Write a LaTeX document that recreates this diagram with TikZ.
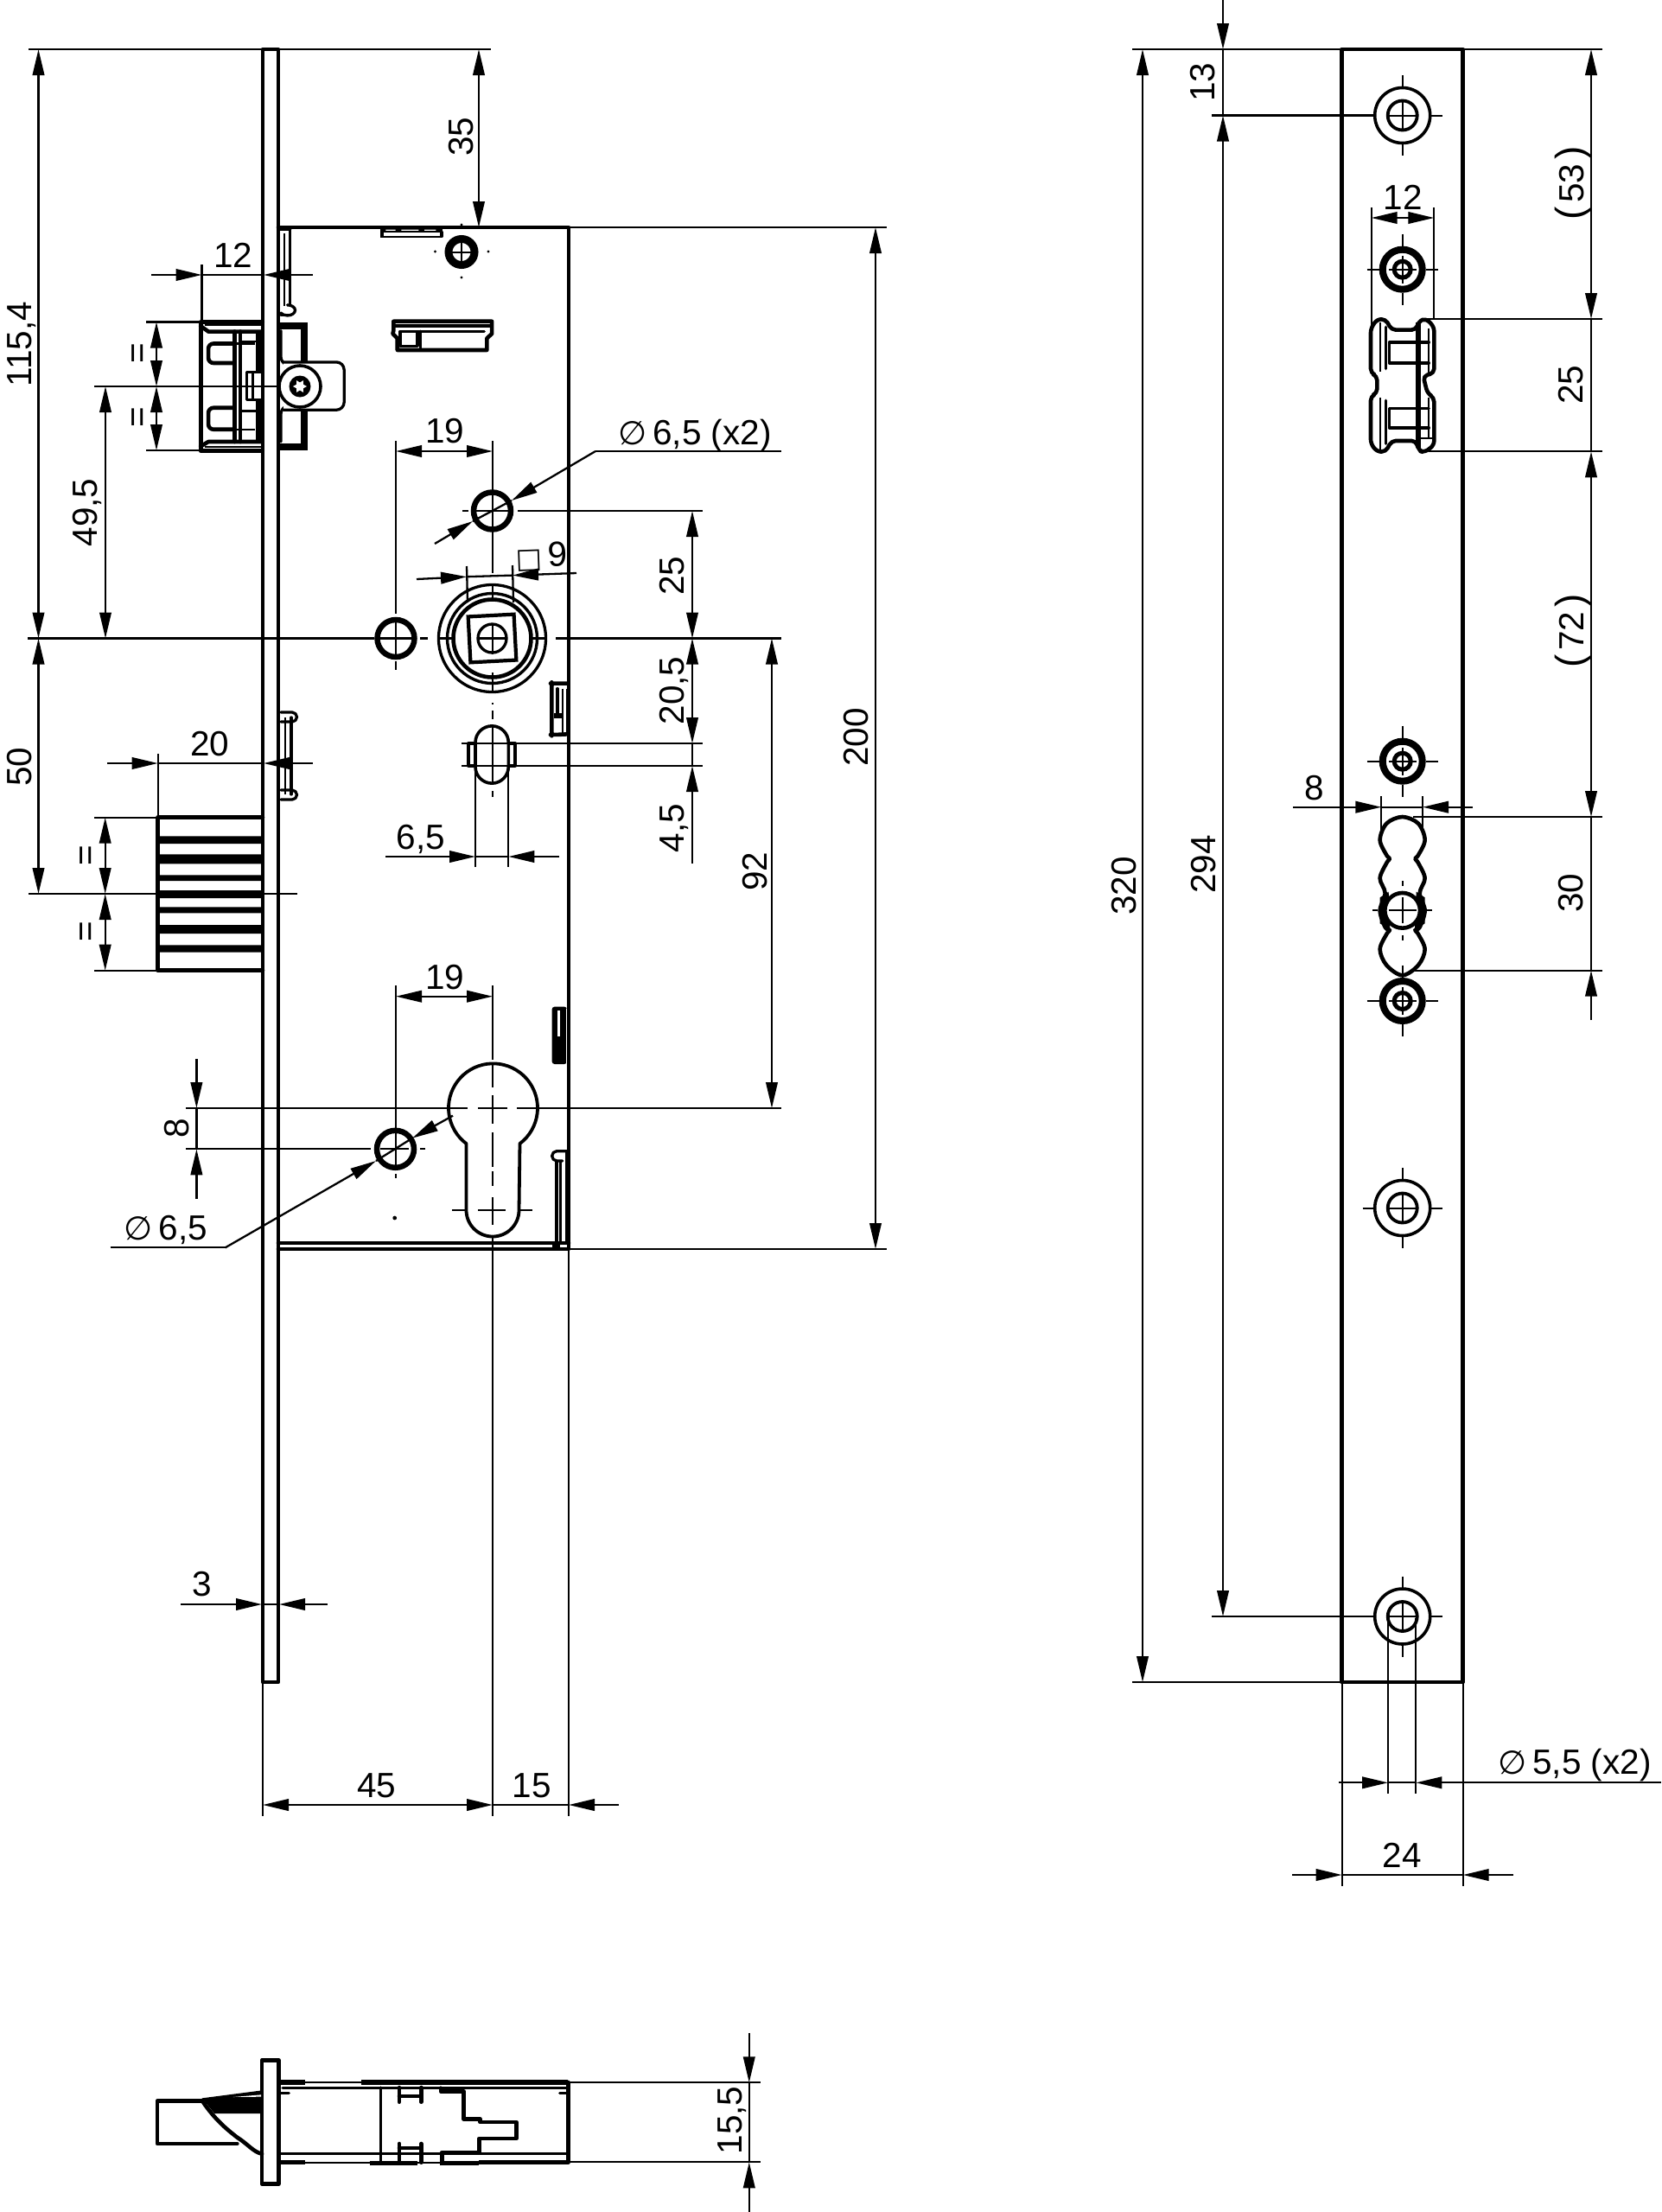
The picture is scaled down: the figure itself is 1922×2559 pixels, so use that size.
\documentclass[tikz,border=0pt]{standalone}
\usepackage{fontspec}
\setmainfont{Liberation Sans}
\newfontfamily\dej{DejaVu Sans}
\usetikzlibrary{arrows.meta}
\tikzset{
  dimln/.style={line width=2.3pt,black},
  ln/.style={dimln,-{Triangle[length=30pt,width=13.5pt]}},
  lr/.style={dimln,{Triangle[length=30pt,width=13.5pt]}-{Triangle[length=30pt,width=13.5pt]}},
  thk/.style={line width=4.6pt,line join=round,line cap=round},
  md/.style={line width=3.3pt,line join=round,line cap=round},
  fine/.style={line width=2pt},
  lab/.style={font=\fontsize{40.5}{40.5}\selectfont,inner sep=0pt,text=black,text height=28pt,text depth=0pt},
  vlab/.style={lab,rotate=90},
  zA/.style={shift={(0,220)},xscale=0.4464,yscale=0.3571},
  zB/.style={shift={(400,500)},scale=0.3333},
  zE/.style={shift={(1450,40)},scale=0.3333},
  zF/.style={shift={(1450,830)},scale=0.3333},
  zG/.style={shift={(400,1150)},scale=0.3333},
  zD/.style={shift={(150,2320)},xscale=0.4785,yscale=0.3333},
}
\newcommand\bigscrew[3]{%
  \begin{scope}[shift={(#1,#2)}]
    \draw[md,line width=3.6pt] (0,0) circle[radius=32];
    \draw[md,line width=3.8pt] (0,0) circle[radius=17];
    \draw[fine] (-17,0)--(17,0) (0,-17)--(0,17) (-46,0)--(-32,0) (32,0)--(46,0) (0,-46.5)--(0,-32) (0,32)--(0,46.5);
  \end{scope}}
\newcommand\lockscrew[2]{%
  \begin{scope}[shift={(#1,#2)}]
    \draw[line width=8pt] (0,0) circle[radius=23];
    \draw[line width=5pt] (0,0) circle[radius=9.5];
    \draw[fine] (-16,0)--(16,0) (0,-16)--(0,16) (-41,0)--(-27,0) (27,0)--(41,0) (0,-41)--(0,-27) (0,27)--(0,41);
  \end{scope}}
\newcommand\ringhole[2]{%
  \draw[line width=6.5pt] (#1,#2) circle[radius=21.5];}
\begin{document}
\begin{tikzpicture}[x=1pt,y=1pt,yscale=-1]
\useasboundingbox (0,0) rectangle (1922,2559);
\fill[white] (0,0) rectangle (1922,2559);

%% ---------- left view: dimension lines ----------
\draw[dimln] (33,57)--(568,57) (33,1034)--(344,1034) (32,738.5)--(433,738.5)
  (440,738.5)--(476,738.5) (486,738.5)--(495,738.5) (507,738.5)--(525,738.5)
  (552,738.5)--(586,738.5) (613,738.5)--(632,738.5) (643,738.5)--(904,738.5);
\draw[lr] (44.5,57)--(44.5,738.5);
\draw[lr] (44.5,738.5)--(44.5,1034);
\node[vlab] (t1154) at (22,398) {115,4};
\node[vlab] (t50) at (22,887) {50};
\draw[lr] (122,447)--(122,738.5);
\node[vlab] (t495) at (98,593) {49,5};
\draw[dimln] (109,447)--(335,447) (169,372.5)--(232,372.5) (169,521)--(232,521);
\draw[lr] (181,372.5)--(181,447);
\draw[lr] (181,447)--(181,521);
\node[vlab] (teqa) at (158,409) {=};
\node[vlab] (teqb) at (158,483) {=};
\draw[ln] (175,318)--(233.5,318);
\draw[ln] (362,318)--(305,318);
\draw[dimln] (233.5,318)--(305,318) (233.5,306)--(233.5,372);
\node[lab] (t12a) at (270,295) {12};
\draw[lr] (554,57)--(554,263);
\node[vlab] (t35) at (533,158) {35};
\draw[dimln] (658,263)--(1026,263) (658,1445)--(1026,1445);
\draw[lr] (1013,263)--(1013,1445);
\node[vlab] (t200) at (990,853) {200};

% upper 19 and phi leader
\draw[lr] (458,522)--(570,522);
\draw[dimln] (458,510)--(458,710) (570,510)--(570,663) (458,715)--(458,760) (458,765)--(458,775);
\node[lab] (t19a) at (515,498) {19};
\draw[dimln] (904,522)--(689,522);
\draw[ln] (689,522)--(592,579);
\draw[ln] (503,629)--(547,603);
\draw[dimln] (592,579)--(547,603);
\node[lab] (tphia) at (804,500) {{\dej\fontsize{38}{38}\selectfont ∅}\,6,5 (x2)};
\draw[dimln] (535,591)--(542,591) (547,591)--(593,591) (599,591)--(813,591);

% square 9
\draw[ln] (482,670)--(540,667.2);
\draw[ln] (667,663)--(593,665.6);
\draw[dimln] (540,667.2)--(593,665.6) (540,655)--(541,697) (593,654)--(594,697);
\node[lab,rotate=2] (tsq) at (627,642) {{\dej\fontsize{32}{32}\selectfont □}\,9};

% right chain
\draw[lr] (801,591)--(801,738.5);
\draw[lr] (801,738.5)--(801,860);
\draw[ln] (801,999)--(801,886);
\draw[dimln] (801,860)--(801,886);
\node[vlab] (t25a) at (777,666) {25};
\node[vlab] (t205) at (777,799) {20,5};
\node[vlab] (t45) at (777,958) {4,5};
\draw[dimln] (534,860)--(813,860) (534,886)--(813,886);
\draw[lr] (893,738.5)--(893,1282);
\node[vlab] (t92) at (873,1008) {92};

% 6,5
\draw[dimln] (550,885)--(550,1003) (588.3,885)--(588.3,1003);
\draw[ln] (446,991)--(550,991);
\draw[ln] (647,991)--(588.3,991);
\draw[dimln] (550,991)--(588.3,991);
\node[lab] (t65) at (487,968) {6,5};

% spindle centre dashes
\draw[dimln] (570,678)--(570,692) (570,723)--(570,757) (570,778)--(570,800)
  (570,813)--(570,815) (570,822)--(570,832) (570,840)--(570,907) (570,915)--(570,922);

% 20 dim
\draw[ln] (124,883)--(182.7,883);
\draw[ln] (362,883)--(305,883);
\draw[dimln] (182.7,883)--(305,883) (182.7,872)--(182.7,945);
\node[lab] (t20) at (243,860) {20};
\draw[dimln] (109,945.7)--(182,945.7) (109,1122.7)--(182,1122.7);
\draw[lr] (121.7,945.7)--(121.7,1034);
\draw[lr] (121.7,1034)--(121.7,1122.7);
\node[vlab] (teqc) at (98,990) {=};
\node[vlab] (teqd) at (98,1078) {=};

% lower 19, 8, phi
\draw[lr] (458,1152.7)--(570,1152.7);
\draw[dimln] (458,1140)--(458,1346) (458,1358)--(458,1363) (570,1140)--(570,1226);
\node[lab] (t19b) at (515,1130) {19};
\draw[dimln] (215,1282)--(541,1282) (553,1282)--(587,1282) (598,1282)--(904,1282);
\draw[dimln] (215,1329.3)--(429,1329.3) (440,1329.3)--(473,1329.3) (486,1329.3)--(492,1329.3);
\draw[ln] (227.4,1225)--(227.4,1282);
\draw[ln] (227.4,1387)--(227.4,1329.3);
\draw[dimln] (227.4,1282)--(227.4,1329.3);
\node[vlab] (t8a) at (204,1305) {8};
\draw[dimln] (127.5,1443.3)--(260.7,1443.3);
\draw[ln] (260.7,1443.3)--(435,1343);
\draw[ln] (524,1290.7)--(477,1316.7);
\draw[dimln] (435,1343)--(477,1316.7);
\node[lab] (tphib) at (192,1420) {{\dej\fontsize{38}{38}\selectfont ∅}\,6,5};

% cylinder centre lines
\draw[dimln] (570,1230)--(570,1258) (570,1267)--(570,1300) (570,1310)--(570,1350)
  (570,1355)--(570,1372) (570,1385)--(570,1417) (570,1431)--(570,2101)
  (523,1400)--(538,1400) (553,1400)--(585,1400) (602,1400)--(616,1400);
\draw[dimln] (658,1445)--(658,2101) (304,1946)--(304,2101);

% 3, 45, 15
\draw[ln] (209,1856)--(303,1856);
\draw[ln] (379,1856)--(323,1856);
\draw[dimln] (303,1856)--(323,1856);
\node[lab] (t3) at (233.6,1832) {3};
\draw[lr] (304,2088)--(570,2088);
\draw[ln] (715.7,2088)--(658,2088);
\draw[dimln] (570,2088)--(658,2088);
\node[lab] (t45b) at (436,2065) {45};
\node[lab] (t15) at (615,2065) {15};

%% ---------- left view: body ----------
\draw[thk] (304,57) rectangle (322,1946);
\draw[thk] (322,263)--(658,263)--(658,1445)--(322,1445);
\draw[thk] (322,1438)--(658,1438);

% holes
\ringhole{569.5}{591}
\ringhole{458}{738.5}
\ringhole{457.5}{1329.3}
\draw[dimln] (570,570)--(570,612) (547,591)--(593,591);
\draw[dimln] (458,717)--(458,760) (440,738.5)--(476,738.5);
\draw[dimln] (458,1308)--(458,1350) (440,1329.3)--(473,1329.3);

% spindle
\draw[md] (569.5,738.5) circle[radius=62];
\draw[md,line width=3.4pt] (569.5,738.5) circle[radius=52];
\draw[line width=4.6pt] (569.5,738.5) circle[radius=45];
\begin{scope}[shift={(569.5,738.5)},rotate=-3]
  \draw[line width=4.2pt,line join=miter] (-26.5,-26.5) rectangle (26.5,26.5);
\end{scope}
\draw[md] (569.5,738.5) circle[radius=16.5];

% oval slot
\draw[md,line width=3.6pt] (550,859) arc[start angle=180,end angle=360,radius=19.15]
  --(588.3,887) arc[start angle=0,end angle=180,radius=19.15]--cycle;
\draw[md] (548,860)--(542,860)--(542,886)--(548,886);
\draw[md] (590,860)--(596,860)--(596,886)--(590,886);
\draw[fine] (543,861)--(543,885) (595,861)--(595,885);

% cylinder hole
\draw[thk,line width=3.8pt] (539.5,1323) arc[start angle=127,end angle=413,radius=51.5]
  --(600.5,1400) arc[start angle=0,end angle=180,radius=30.5]--cycle;

% top screw
\draw[line width=9pt] (534,291.5) circle[radius=15];
\draw[fine] (523,291.5)--(545,291.5) (534,280)--(534,303);
\fill (503.5,291) circle[radius=1.6] (565,291) circle[radius=1.6]
      (534,321) circle[radius=1.6] (534,260) circle[radius=1.6]
      (456.7,1409) circle[radius=2.4];

% top tab, slot, springs, side tabs
\begin{scope}[zA]
  \fill (985,122) rectangle (1148,155);
  \fill[white] (1000,128) rectangle (1025,140) (1040,128) rectangle (1085,140) (1100,128) rectangle (1130,140);
  \draw[md,fill=white] (990,135) rectangle (1145,150);
  \fill[white] (995,137) rectangle (1140,148);
  \draw[thk] (1020,455)--(1020,425)--(1275,425)--(1275,465)--(1262,480)--(1262,518)--(1030,518)--(1030,480)--(1018,465)--cycle;
  \draw[md] (1020,440)--(1272,440);
  \draw[md] (1037,457)--(1082,457)--(1082,505)--(1037,505)--cycle;
  \draw[md] (1090,457)--(1090,518);
  \draw[md] (1082,457)--(1255,457);
  % spring top
  \draw[md] (752,128)--(752,372);
  \draw[fine] (738,140)--(738,375);
  \draw[md] (726,128)--(752,128);
  \draw[md] (745,372) arc[start angle=-90,end angle=150,x radius=20,y radius=17];
  \draw[md] (728,405)--(750,405);
\end{scope}

% latch bolt
\begin{scope}[zA]
  \draw[thk,line width=5pt] (680,427)--(520,427)--(520,845)--(680,845);
  \draw[fine] (530,438)--(680,438) (530,832)--(680,832);
  \draw[thk] (520,440)--(540,458)--(680,458) (520,830)--(540,815)--(680,815);
  \draw[thk,rounded corners=6] (605,497)--(540,497)--(540,560)--(605,560);
  \draw[thk,rounded corners=6] (605,705)--(540,705)--(540,775)--(605,775);
  \draw[thk] (608,458)--(608,815) (623,458)--(623,815);
  \draw[line width=2.4pt] (623,490)--(668,490) (623,715)--(668,715) (608,497)--(660,497) (608,775)--(660,775);
  \draw[line width=7pt] (670,458)--(670,590) (670,680)--(670,815);
  \draw[md] (678,590)--(640,590)--(640,680)--(678,680);
  \draw[line width=3pt] (655,590)--(655,680);
  % behind the plate
  \draw[line width=8pt,line join=miter] (722,441)--(789,441)--(789,832)--(722,832);
  \draw[md] (728,455)--(728,540) arc[start angle=180,end angle=120,radius=30];
  \draw[md] (728,815)--(728,725) arc[start angle=180,end angle=240,radius=30];
  \draw[md,rounded corners=9pt,fill=white] (735,557)--(892,557)--(892,712)--(735,712);
\end{scope}
\draw[md,fill=white,line width=3.6pt] (347,447) circle[radius=24];
\fill (347,447) circle[radius=12.5];
\fill[white,shift={(347,447)}] (0:8)--(30:4.5)--(60:8)--(90:4.5)--(120:8)--(150:4.5)--(180:8)--(210:4.5)--(240:8)--(270:4.5)--(300:8)--(330:4.5)--cycle;

% dead bolt
\draw[thk] (304,945.7)--(182.7,945.7)--(182.7,1122.7)--(304,1122.7);
\fill (182.7,967.3) rectangle (304,976) (182.7,988.3) rectangle (304,999.3)
      (182.7,1012.3) rectangle (304,1019) (182.7,1030) rectangle (304,1039)
      (182.7,1049.3) rectangle (304,1056.3) (182.7,1070) rectangle (304,1080)
      (182.7,1093.3) rectangle (304,1101.7);

% side spring at 20
\draw[md] (337,830)--(337,919);
\draw[fine] (330,830)--(330,919);
\draw[md] (325,824)--(338,824) arc[start angle=-90,end angle=90,radius=5.5]--(325,835);
\draw[md] (325,914)--(338,914) arc[start angle=-90,end angle=90,radius=5.5]--(325,925);

% right side tabs
\begin{scope}[zB]
  \draw[thk,rounded corners=8pt] (772,872)--(735,872) arc[start angle=-90,end angle=-180,radius=20]--(715,1030) arc[start angle=180,end angle=90,radius=20]--(772,1048);
  \fill (722,975) rectangle (752,992);
  \draw[fine] (752,890)--(752,1045) (767,890)--(767,1045);
  \draw[md] (735,890)--(735,975);
\end{scope}
\begin{scope}[zG]
  \fill[rounded corners=3pt] (716,44) rectangle (768,243);
  \fill[white] (735,56) rectangle (745,146);
  \draw[white,line width=0.8pt] (765,50)--(765,240);
  \draw[md] (732,583)--(732,865) (745,583)--(745,865);
  \draw[fine] (765,545)--(765,870);
  \draw[md] (770,545)--(733,545) arc[start angle=-90,end angle=-270,radius=17]--(752,579);
  \fill (718,865) rectangle (745,885);
\end{scope}

%% ---------- right view ----------
\draw[dimln] (1310,57)--(1552,57) (1692,57)--(1854,57) (1310,1946)--(1552,1946);
\draw[lr] (1322,57)--(1322,1946);
\node[vlab] (t320) at (1300,1025) {320};
\draw[ln] (1415,0)--(1415,57);
\draw[dimln] (1415,57)--(1415,133.5);
\draw[lr] (1415,133.5)--(1415,1870);
\draw[dimln] (1402,133.5)--(1590,133.5) (1402,1870)--(1590,1870);
\node[vlab] (t13) at (1391.7,95) {13};
\node[vlab] (t294) at (1392,1000) {294};
\draw[lr] (1841,57)--(1841,369);
\draw[dimln] (1841,369)--(1841,522.3);
\draw[lr] (1841,522.3)--(1841,945);
\draw[dimln] (1841,945)--(1841,1122.7);
\draw[ln] (1841,1180)--(1841,1122.7);
\draw[dimln] (1650,369)--(1854,369) (1653,522.3)--(1854,522.3) (1635,945)--(1854,945) (1635,1122.7)--(1854,1122.7);
\node[vlab] (t53) at (1818,212) {{\fontsize{46}{46}\selectfont(}\hspace{5pt}53\hspace{5pt}{\fontsize{46}{46}\selectfont)}};
\node[vlab] (t25b) at (1817,445) {25};
\node[vlab] (t72) at (1818,730) {{\fontsize{46}{46}\selectfont(}\hspace{5pt}72\hspace{5pt}{\fontsize{46}{46}\selectfont)}};
\node[vlab] (t30) at (1817,1033) {30};

\draw[lr] (1586.7,252)--(1659.3,252);
\draw[dimln] (1586.7,240)--(1586.7,377) (1659.3,240)--(1659.3,370);
\node[lab] (t12b) at (1623,228) {12};

\draw[ln] (1496,933.7)--(1598.3,933.7);
\draw[ln] (1704,933.7)--(1646,933.7);
\draw[dimln] (1598.3,933.7)--(1646,933.7) (1598.3,921)--(1598.3,960) (1646,921)--(1646,960);
\node[lab] (t8b) at (1520.7,911) {8};

\draw[dimln] (1606,1872)--(1606,2075) (1638.3,1872)--(1638.3,2075);
\draw[dimln] (1552.7,1946)--(1552.7,2181.7) (1692.7,1946)--(1692.7,2181.7);
\draw[ln] (1549,2062.3)--(1606,2062.3);
\draw[ln] (1921.7,2062.3)--(1638.3,2062.3);
\draw[dimln] (1606,2062.3)--(1638.3,2062.3);
\node[lab] (tphic) at (1822,2038) {{\dej\fontsize{38}{38}\selectfont ∅}\,5,5 (x2)};
\draw[ln] (1495,2169)--(1552.7,2169);
\draw[ln] (1750.7,2169)--(1692.7,2169);
\draw[dimln] (1552.7,2169)--(1692.7,2169);
\node[lab] (t24) at (1622.3,2146) {24};

\draw[thk] (1552.7,57) rectangle (1692.7,1946);
\bigscrew{1622.7}{133.5}{}
\bigscrew{1622.7}{1397.5}{}
\bigscrew{1622.7}{1870}{}
\lockscrew{1622.7}{311.7}
\lockscrew{1622.7}{880.7}
\lockscrew{1622.7}{1158}

% latch bolt, front
\begin{scope}[zE]
  \draw[thk,rounded corners=5pt] (408,1020)--(430,988)--(460,988)--(480,1025)--(565,1025)--(575,995)--(600,985)--(628,1015)--(628,1175)--(590,1185)--(605,1245)--(628,1260)--(628,1425)--(595,1450)--(575,1445)--(565,1410)--(480,1410)--(460,1448)--(430,1448)--(408,1420)--(408,1255)--(430,1245)--(430,1185)--(408,1175)--cycle;
  \draw[fine] (440,1000)--(440,1170) (440,1260)--(440,1440) (610,1020)--(610,1175) (610,1260)--(610,1405) (575,1400)--(628,1400);
  \draw[md] (460,1015)--(460,1160) (460,1270)--(460,1420);
  \draw[md] (610,1068)--(472,1068)--(472,1140)--(610,1140);
  \draw[md] (610,1298)--(472,1298)--(472,1365)--(610,1365);
  \draw[line width=6pt] (573,1000)--(573,1435);
\end{scope}

% lobed slot
\begin{scope}[zF]
  \draw[thk,line join=round] plot[smooth cycle,tension=0.55] coordinates {(518,345)(463,368)(440,425)(463,478)(474,490)(463,505)(440,558)(458,610)(440,670)(458,728)(474,738)(463,752)(440,805)(463,860)(518,895)(573,860)(596,805)(573,752)(562,738)(578,728)(596,670)(578,610)(596,558)(573,505)(562,490)(573,478)(596,425)(573,368)};
  \fill (440,625)--(470,605)--(475,735)--(440,715)--cycle;
  \fill (596,625)--(566,605)--(561,735)--(596,715)--cycle;
  \draw[thk,fill=white,line width=4.6pt] (518,670) circle[radius=61];
  \draw[fine] (470,670)--(566,670) (518,625)--(518,715) (415,670)--(432,670) (604,670)--(620,670)
    (518,568)--(518,585) (518,755)--(518,775) (518,860)--(518,893);
\end{scope}

%% ---------- bottom view ----------
\draw[dimln] (657,2409.3)--(880,2409.3) (657,2501.3)--(880,2501.3);
\draw[ln] (866.8,2351.7)--(866.8,2409.3);
\draw[ln] (866.8,2559)--(866.8,2501.3);
\draw[dimln] (866.8,2409.3)--(866.8,2501.3);
\node[vlab] (t155) at (844,2453) {15,5};
\begin{scope}[zD]
  \draw[thk] (175,332)--(67,332)--(67,480)--(260,480);
  \draw[thk] (320,190) rectangle (360,620);
  \fill (175,322)--(320,295)--(320,375)--(205,375)--cycle;
  \fill[white] (250,318)--(318,310)--(318,317)--cycle;
  \draw[thk] (175,330) .. controls (205,395) and (235,430) .. (260,458) .. controls (285,480) and (300,510) .. (320,515);
  \draw[line width=5.5pt] (360,267)--(425,267) (560,267)--(1060,267);
  \draw[dimln] (360,267)--(1060,267);
  \draw[md] (370,287)--(1060,287) (360,305)--(385,305) (1040,305)--(1060,305);
  \draw[line width=5.5pt] (360,545)--(425,545) (580,547)--(695,547) (750,547)--(845,547) (845,545)--(1060,545);
  \draw[dimln] (360,545)--(1060,545);
  \draw[md] (360,515)--(1060,515);
  \draw[thk] (1060,267)--(1060,545);
  \draw[md] (607,285)--(607,545);
  \draw[thk] (652,285)--(652,335) (705,285)--(705,335) (652,315)--(705,315);
  \draw[thk] (652,480)--(652,545) (705,480)--(705,545) (652,495)--(705,495);
  \draw[thk] (752,287)--(752,298)--(808,298)--(808,395)--(848,395)--(848,405)--(935,405)--(935,462)--(845,462)--(845,510)--(755,510)--(755,545);
\end{scope}
\end{tikzpicture}
\end{document}
